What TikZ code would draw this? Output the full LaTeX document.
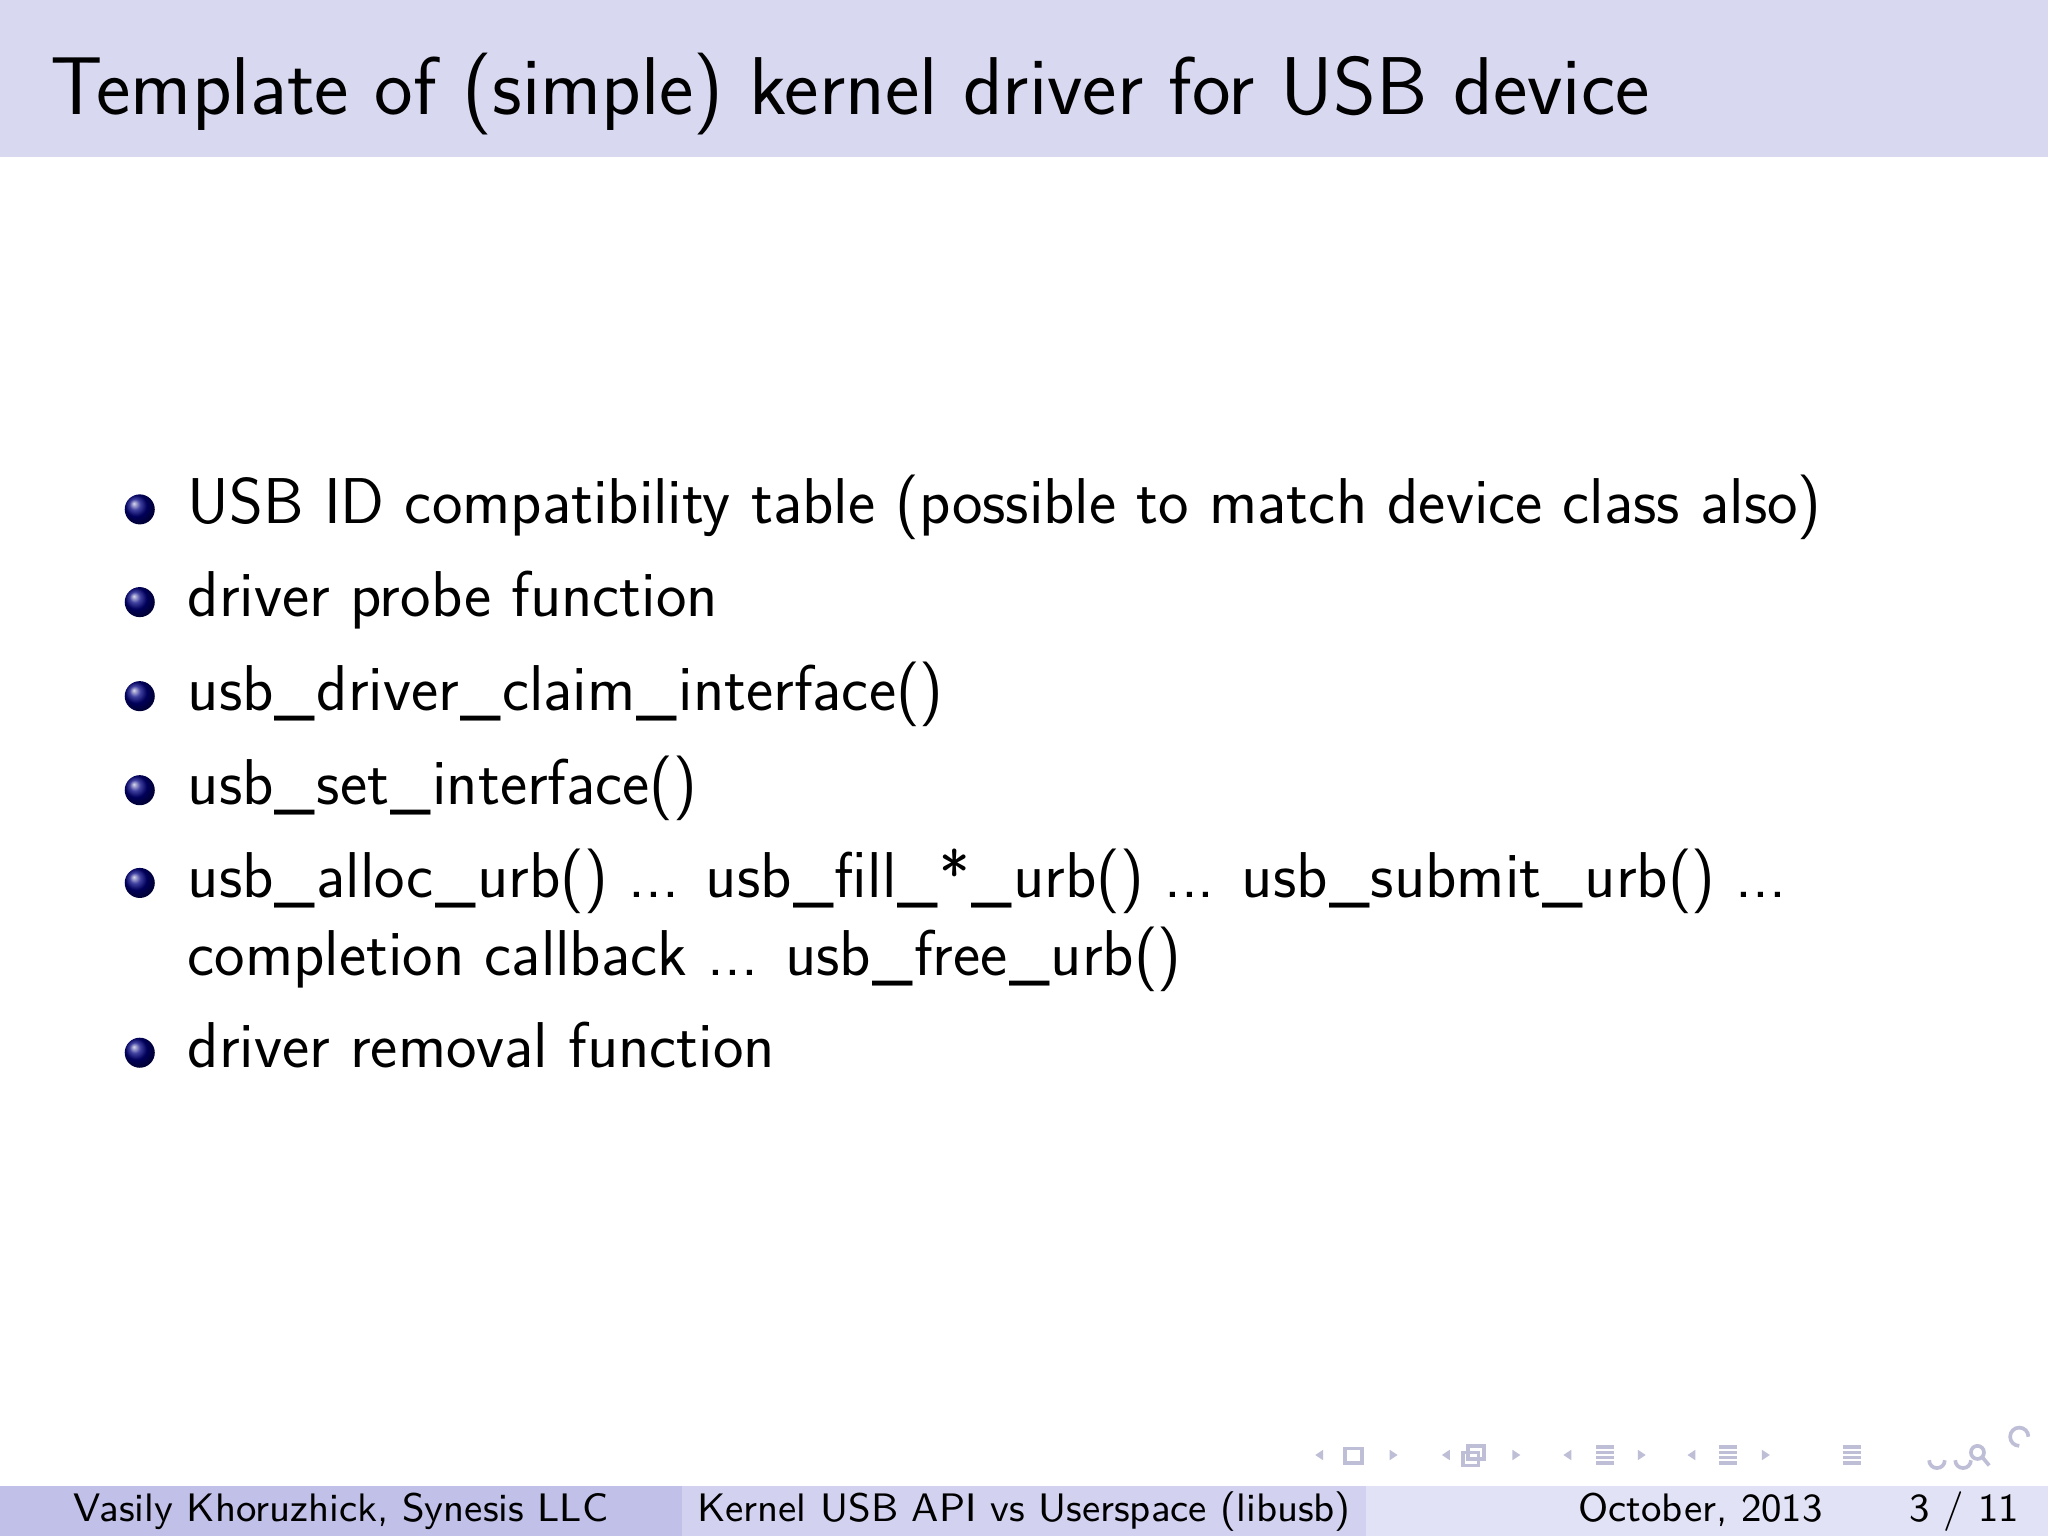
\documentclass[tikz,border=0pt]{standalone}
\usepackage{fontspec}
\setmainfont{Latin Modern Sans}
\definecolor{hdr}{RGB}{216,216,240}
\definecolor{fa}{RGB}{192,192,232}
\definecolor{fb}{RGB}{210,210,240}
\definecolor{fc}{RGB}{226,226,246}
\definecolor{nav}{RGB}{190,190,215}
\newcommand{\us}{\kern0.02em\_\kern0.02em}
\tikzset{item/.style={anchor=base west,font=\fontsize{14.1}{17}\selectfont,inner sep=0pt},
 ball/.style={circle,inner sep=0pt,minimum size=0.23cm,ball color=blue!50!black,shading=ball},
 foot/.style={anchor=base,font=\fontsize{8.65}{11}\selectfont,inner sep=0pt}}
\begin{document}
\begin{tikzpicture}[x=0.01cm,y=-0.01cm]
\useasboundingbox (0,0) rectangle (1568,1176);
\fill[white] (0,0) rectangle (1568,1176);
\fill[hdr] (0,0) rectangle (1568,120);
\node[anchor=base west,inner sep=0pt,font=\fontsize{17.85}{22}\selectfont] (title) at (38,88) {Template of (simple) kernel driver for USB device};
\foreach \y/\t [count=\i] in {401/{USB ID compatibility table (possible to match device class also)},472/{driver probe function},544/{usb\us driver\us claim\us interface()},616/{usb\us set\us interface()},687/{usb\us alloc\us urb() ... usb\us fill\us *\us urb() ... usb\us submit\us urb() ...},817/{driver removal function}}{
 \node[ball] (b\i) at (107,\y-11) {};
 \node[item] (t\i) at (143,\y) {\t};
}
\node[item] (t5b) at (143,747) {completion callback ... usb\us free\us urb()};
\fill[fa] (0,1138) rectangle (522,1176);
\fill[fb] (522,1138) rectangle (1046,1176);
\fill[fc] (1046,1138) rectangle (1568,1176);
\node[foot] (f1) at (261,1165) {Vasily Khoruzhick, Synesis LLC};
\node[foot] (f2) at (784,1165) {Kernel USB API vs Userspace (libusb)};
\node[foot] (f3) at (1302,1165) {October, 2013};
\node[foot] (f4) at (1504,1165) {3 / 11};
% navigation symbols
\begin{scope}[nav,fill=nav,draw=nav,line width=0.8pt]
\foreach \x in {1003,1100,1193,1288}{\fill (\x+4,1114)--(\x+10,1110)--(\x+10,1118)--cycle;}
\foreach \x in {1062,1156,1252,1347}{\fill (\x+8,1114)--(\x+2,1110)--(\x+2,1118)--cycle;}
\draw (1030,1109) rectangle (1043,1120);
\draw (1120,1112) rectangle (1132,1122); \draw (1124,1107) rectangle (1136,1117);
\foreach \x in {1222,1316,1411}{\foreach \d in {0,4,8,12}{\draw (\x,1108+\d)--(\x+14,1108+\d);}}
\draw (1477,1118) arc (180:0:6); \draw (1497,1118) arc (180:0:6);
\draw (1514,1112) circle (5); \draw (1518,1116)--(1523,1122);
\draw (1546,1107) arc (90:360:7) ;
\end{scope}
\end{tikzpicture}
\end{document}
